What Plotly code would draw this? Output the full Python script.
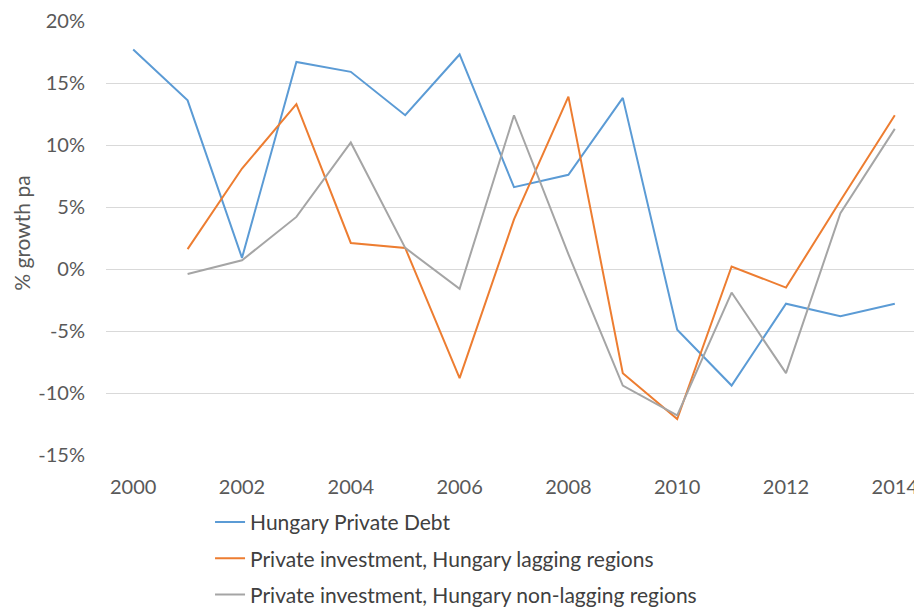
import plotly.graph_objects as go

years = list(range(2000, 2015))
private_debt = [17.7, 13.6, 0.9, 16.7, 15.9, 12.4, 17.3, 6.6, 7.6, 13.8, -4.9, -9.4, -2.8, -3.8, -2.8]
lagging = [None, 1.6, 8.1, 13.3, 2.1, 1.7, -8.8, 4.0, 13.9, -8.4, -12.1, 0.2, -1.5, 5.5, 12.4]
non_lagging = [None, -0.4, 0.7, 4.2, 10.2, 1.7, -1.6, 12.4, 1.2, -9.4, -11.8, -1.9, -8.4, 4.5, 11.3]

series_names = [
    "Hungary Private Debt",
    "Private investment, Hungary lagging regions",
    "Private investment, Hungary non-lagging regions",
]
colors = ["#5B9BD5", "#ED7D31", "#A5A5A5"]
y_ticks = [-15, -10, -5, 0, 5, 10, 15, 20]
y_tick_labels = [f"{v}%" for v in y_ticks]
x_ticks = list(range(2000, 2015, 2))
x_tick_labels = [str(y) for y in x_ticks]
y_title = "% growth pa"

fig = go.Figure()
for i, (name, vals) in enumerate(zip(series_names, [private_debt, lagging, non_lagging])):
    fig.add_trace(go.Scatter(
        x=years, y=vals, mode="lines", name=name,
        line=dict(color=colors[i], width=2),
        legendgroup=f"g{i}",
        connectgaps=False,
    ))

font_family = "Lato, 'Open Sans', sans-serif"
fig.update_layout(
    width=914, height=599,
    margin=dict(l=98, r=0, t=13, b=152, autoexpand=False),
    paper_bgcolor="white", plot_bgcolor="white",
    font=dict(family=font_family, size=20, color="#595959"),
    xaxis=dict(
        range=[1999.5, 2014.5], tickmode="array",
        tickvals=x_ticks, ticktext=x_tick_labels,
        showgrid=False, zeroline=False, showline=False,
        ticks="", automargin=False, ticklabelstandoff=18,
        tickfont=dict(size=20, color="#595959"),
    ),
    yaxis=dict(
        range=[-15, 20], tickmode="array", tickvals=y_ticks, ticktext=y_tick_labels,
        showgrid=True, gridcolor="#D9D9D9", gridwidth=1,
        zeroline=False, showline=False, ticks="", automargin=False,
        ticklabelstandoff=20,
        tickfont=dict(size=20, color="#595959"),
    ),
    legend=dict(
        x=0.1275, xanchor="left", y=-0.108, yanchor="top",
        orientation="v", tracegroupgap=6,
        font=dict(size=21, color="#404040"),
        bgcolor="rgba(0,0,0,0)",
    ),
    annotations=[dict(
        text=y_title, xref="paper", yref="paper",
        x=-0.103, y=0.512, xanchor="center", yanchor="middle",
        textangle=-90, showarrow=False,
        font=dict(size=21, color="#595959"),
    )],
    showlegend=True,
)

fig.write_html("out.html")
